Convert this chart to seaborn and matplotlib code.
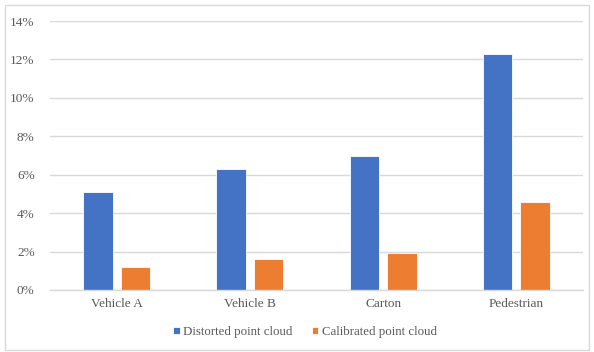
import matplotlib
matplotlib.use("Agg")
import matplotlib.pyplot as plt
from matplotlib.patches import Rectangle
from matplotlib.ticker import PercentFormatter
import seaborn as sns
import pandas as pd

categories = ["Vehicle A", "Vehicle B", "Carton", "Pedestrian"]
distorted = [5.1, 6.3, 7.0, 12.3]
calibrated = [1.2, 1.6, 1.9, 4.6]
series_names = ["Distorted point cloud", "Calibrated point cloud"]
colors = ["#4472C4", "#ED7D31"]

df = pd.DataFrame({
    "category": categories * 2,
    "value": distorted + calibrated,
    "series": [series_names[0]] * len(categories) + [series_names[1]] * len(categories),
})

sns.set_theme(style="white")
plt.rcParams["font.family"] = ["Liberation Serif", "DejaVu Serif"]

fig = plt.figure(figsize=(5.94, 3.52), dpi=100)
ax = fig.add_axes([50 / 594, 1 - 290 / 352, 533 / 594, 269 / 352])

sns.barplot(data=df, x="category", y="value", hue="series", order=categories,
            hue_order=series_names, palette=colors, width=0.56, gap=0.21,
            saturation=1, ax=ax, legend=True)

ax.set_ylim(0, 14)
ax.set_xlim(-0.5, 3.5)
ax.set_yticks(range(0, 15, 2))
ax.yaxis.set_major_formatter(PercentFormatter(decimals=0))
ax.grid(axis="y", color="#D9D9D9", linewidth=1)
ax.set_axisbelow(True)
for s in ["top", "right", "left"]:
    ax.spines[s].set_visible(False)
ax.spines["bottom"].set_color("#D9D9D9")
ax.spines["bottom"].set_linewidth(1)
ax.tick_params(axis="both", length=0, labelsize=9.5, colors="#595959", pad=6)
ax.tick_params(axis="y", pad=11)
ax.set_xlabel("")
ax.set_ylabel("")

for p in ax.patches:
    p.set_edgecolor("white")
    p.set_linewidth(0.6)

ax.legend(loc="center", bbox_to_anchor=((305 - 50) / 533, (290 - 332) / 269),
          ncol=2, frameon=False, fontsize=9.3, handlelength=0.5, handleheight=0.5,
          handletextpad=0.25, columnspacing=1.5, labelcolor="#595959")

fig.patches.append(Rectangle((5 / 594, 2 / 352), 584 / 594, 345 / 352,
                             transform=fig.transFigure, fill=False,
                             edgecolor="#D9D9D9", linewidth=1))

fig.savefig("out.png", dpi=100)
